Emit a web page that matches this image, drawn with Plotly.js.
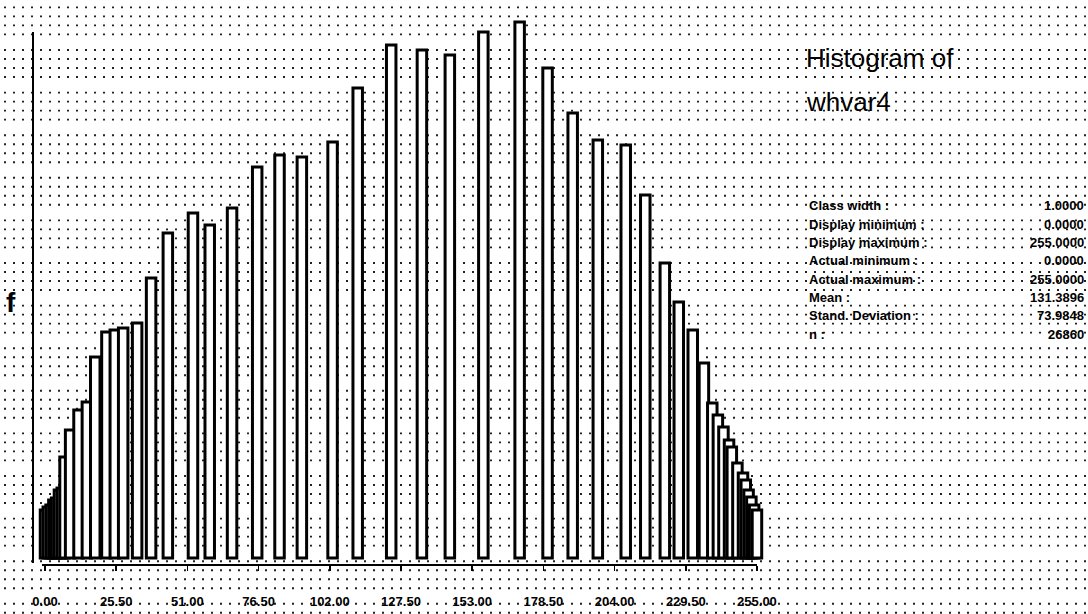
<!DOCTYPE html>
<html><head><meta charset="utf-8">
<script src="https://cdn.plot.ly/plotly-3.0.1.min.js"></script>
<style>html,body{margin:0;padding:0;background:#fff}#chart{width:1088px;height:614px}</style>
</head><body><div id="chart"></div>
<script>
// ---- data ----
const binValues = [0,1,2,3,4,5,6,7,9,12,15,18,22,25,28,33,38,44,53,59,67,76,84,92,103,112,124,135,145,157,170,180,189,198,208,215,222,227,232,236,239,241,243,245,246,248,250,251,252,253,254,255];
const frequencies = [48,51,53,58,60,68,70,101,128,148,156,201,226,228,230,235,280,325,345,333,350,391,403,401,416,470,513,508,503,526,536,490,445,418,413,363,295,256,228,195,155,143,131,118,111,95,85,78,68,61,53,48];
const tickValues = [0,25.5,51,76.5,102,127.5,153,178.5,204,229.5,255];
const tickLabels = ["0.00","25.50","51.00","76.50","102.00","127.50","153.00","178.50","204.00","229.50","255.00"];
const titleLines = ["Histogram of","whvar4"];
const statLabels = ["Class width :","Display minimum :","Display maximum :","Actual minimum :","Actual maximum :","Mean :","Stand. Deviation :","n :"];
const statValues = ["1.0000","0.0000","255.0000","0.0000","255.0000","131.3896","73.9848","26860"];
const yLabel = "f";

// ---- layout geometry ----
const W=1088,H=614,ML=33,MR=321,MT=10,MB=49;
const PW=W-ML-MR, PH=H-MT-MB;
const px=x=>(x-ML)/PW, py=y=>(H-MB-y)/PH;
const FONT="Liberation Sans, Arial, sans-serif";

// dotted graph-paper background
const shapes=[];
for(let k=-1;k<=13;k++){
  [0,9,18,27].forEach(o=>{
    const y=50+42.6*k+o;
    if(y<0||y>H) return;
    shapes.push({type:'line',xref:'paper',yref:'paper',layer:'below',
      x0:px(4),x1:px(W),y0:py(y),y1:py(y),
      line:{color:'#222',width:1.9,dash:'2px,7px'}});
  });
}
// axis lines
shapes.push({type:'line',xref:'paper',yref:'paper',x0:px(33),x1:px(33),y0:py(32),y1:py(563),line:{color:'#000',width:2}});
shapes.push({type:'line',xref:'paper',yref:'paper',x0:px(42),x1:px(757),y0:py(565),y1:py(565),line:{color:'#000',width:2}});

const annotations=[];
annotations.push({xref:'paper',yref:'paper',x:px(11),y:py(302),text:yLabel,showarrow:false,
  xanchor:'center',yanchor:'middle',font:{family:FONT,size:28,color:'#000',weight:'bold'}});
const titleY=[58,102];
titleLines.forEach((t,i)=>annotations.push({xref:'paper',yref:'paper',x:px(804),y:py(titleY[i]),text:t,
  showarrow:false,xanchor:'left',yanchor:'middle',font:{family:FONT,size:26,color:'#000'}}));
statLabels.forEach((t,i)=>{
  const y=206+18.3*i;
  annotations.push({xref:'paper',yref:'paper',x:px(807),y:py(y),text:t,showarrow:false,
    xanchor:'left',yanchor:'middle',font:{family:FONT,size:13,color:'#000',weight:'bold'}});
  annotations.push({xref:'paper',yref:'paper',x:px(1086),y:py(y),text:statValues[i],showarrow:false,
    xanchor:'right',yanchor:'middle',font:{family:FONT,size:13,color:'#000',weight:'bold'}});
});

const trace={type:'bar',x:binValues,y:frequencies,width:3.4,
  marker:{color:'#fff',line:{color:'#000',width:3}},hoverinfo:'skip'};

const layout={width:W,height:H,margin:{l:ML,r:MR,t:MT,b:MB},
  paper_bgcolor:'#fff',plot_bgcolor:'rgba(0,0,0,0)',showlegend:false,
  xaxis:{range:[(33-45)/2.792,(767-45)/2.792],tickmode:'array',tickvals:tickValues,ticktext:tickLabels,
    ticks:'outside',ticklen:5,tickwidth:1.5,tickcolor:'#000',showgrid:false,zeroline:false,showline:false,
    ticklabelstandoff:19,tickfont:{family:FONT,size:13,color:'#000',weight:'bold'}},
  yaxis:{range:[-7,548],showticklabels:false,showgrid:false,zeroline:false,showline:false,ticks:''},
  shapes:shapes,annotations:annotations};

Plotly.newPlot('chart',[trace],layout,{staticPlot:true,displayModeBar:false});
</script></body></html>
